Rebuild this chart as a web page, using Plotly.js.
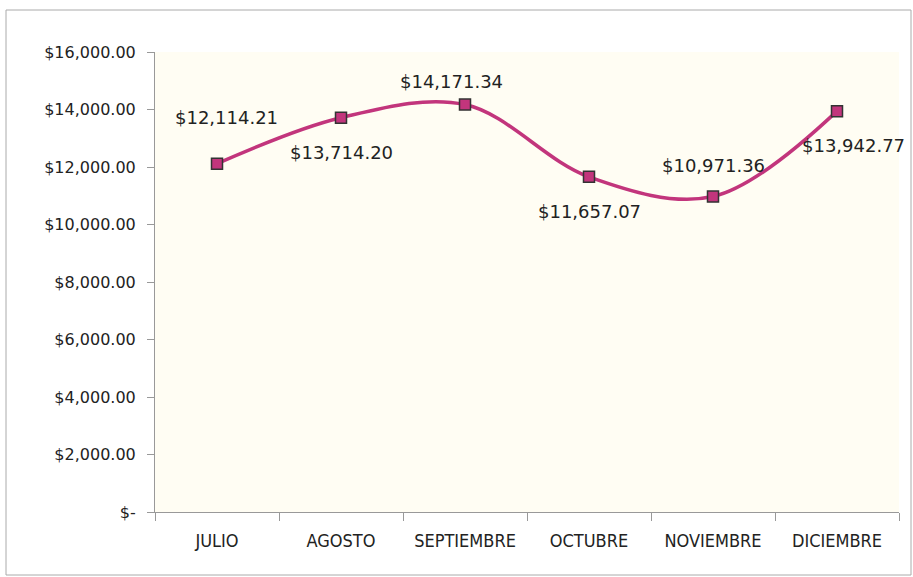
<!DOCTYPE html>
<html>
<head>
<meta charset="utf-8">
<script src="https://cdn.plot.ly/plotly-3.0.1.min.js"></script>
<style>
html,body{margin:0;padding:0;background:#fff;}
#chart{width:913px;height:577px;}
</style>
</head>
<body>
<div id="chart"></div>
<script>
const months = ["JULIO","AGOSTO","SEPTIEMBRE","OCTUBRE","NOVIEMBRE","DICIEMBRE"];
const values = [12114.21, 13714.20, 14171.34, 11657.07, 10971.36, 13942.77];
const yTickVals = [0,2000,4000,6000,8000,10000,12000,14000,16000];
const yTickText = ["$-","$2,000.00","$4,000.00","$6,000.00","$8,000.00","$10,000.00","$12,000.00","$14,000.00","$16,000.00"];
const labelOffsetX = [9, 0, -14, 0, 0, 16];
const labelOffsetY = [-46, 35, -23, 35, -31, 34];

function fmt(v){
  return "$" + v.toLocaleString("en-US",{minimumFractionDigits:2,maximumFractionDigits:2});
}

const trace = {
  x: months, y: values, type: "scatter", mode: "lines+markers",
  line: {shape: "spline", smoothing: 1, color: "#c2357c", width: 3.5},
  marker: {symbol: "square", size: 11, color: "#c2357c", line: {color: "#333333", width: 1.5}},
  hoverinfo: "skip"
};

const annotations = months.map((m,i)=>({
  x: m, y: values[i], xref: "x", yref: "y",
  text: fmt(values[i]), showarrow: true, arrowcolor: "rgba(0,0,0,0)", arrowwidth: 0.1,
  ax: labelOffsetX[i], ay: labelOffsetY[i],
  font: {family: "DejaVu Sans", size: 18, color: "#222"}
}));

const layout = {
  width: 913, height: 577,
  margin: {l: 155, r: 14, t: 52, b: 65},
  paper_bgcolor: "#ffffff", plot_bgcolor: "#fffdf3",
  showlegend: false,
  font: {family: "DejaVu Sans", size: 14, color: "#222"},
  xaxis: {
    type: "category", range: [-0.5, 5.5], tickson: "boundaries",
    ticks: "outside", ticklen: 8, tickcolor: "#999", showgrid: false,
    showline: true, linecolor: "#999", linewidth: 1, zeroline: false,
    ticklabelstandoff: 12,
    tickfont: {family: "DejaVu Sans Condensed", size: 18, color: "#222"}
  },
  yaxis: {
    range: [0, 16000], tickvals: yTickVals, ticktext: yTickText,
    ticks: "outside", ticklen: 7, tickcolor: "#999", showgrid: false,
    showline: true, linecolor: "#999", linewidth: 1, zeroline: false,
    ticklabelstandoff: 8,
    tickfont: {family: "DejaVu Sans", size: 16, color: "#222"}
  },
  annotations: annotations,
  shapes: [{
    type: "rect", xref: "paper", yref: "paper",
    x0: (6-155)/744, x1: (911-155)/744, y0: (512-575)/460, y1: (512-10)/460,
    line: {color: "#aaa", width: 1}, fillcolor: "rgba(0,0,0,0)", layer: "below"
  }]
};

Plotly.newPlot("chart", [trace], layout, {staticPlot: true});
</script>
</body>
</html>
